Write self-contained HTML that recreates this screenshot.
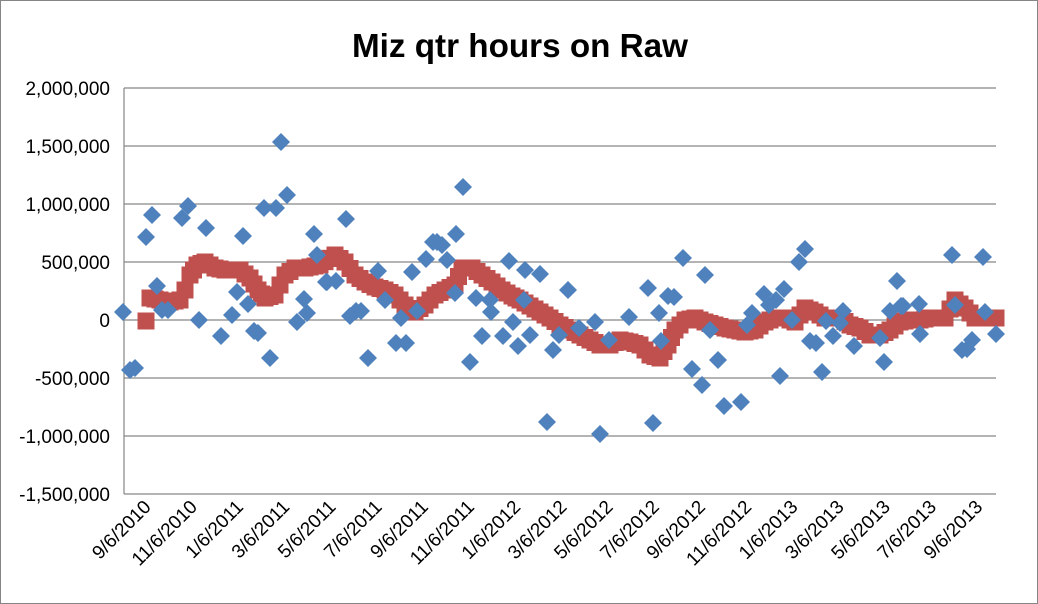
<!DOCTYPE html>
<html><head><meta charset="utf-8"><style>
html,body{margin:0;padding:0;background:#fff}
svg{display:block;font-family:"Liberation Sans",sans-serif}
</style></head><body>
<svg id="s" width="1038" height="604" viewBox="0 0 1038 604" xmlns="http://www.w3.org/2000/svg">
<rect x="0.5" y="0.5" width="1037" height="603" fill="#fff" stroke="#868686"/>
<text x="520" y="57" text-anchor="middle" font-size="33" font-weight="bold" fill="#000" textLength="336" lengthAdjust="spacingAndGlyphs">Miz qtr hours on Raw</text>
<g stroke="#868686" stroke-width="1.2">
<line x1="124" y1="88" x2="996" y2="88"/><line x1="124" y1="146" x2="996" y2="146"/>
<line x1="124" y1="204" x2="996" y2="204"/><line x1="124" y1="262" x2="996" y2="262"/>
<line x1="124" y1="320" x2="996" y2="320"/><line x1="124" y1="378" x2="996" y2="378"/>
<line x1="124" y1="436" x2="996" y2="436"/><line x1="124" y1="494" x2="996" y2="494"/>
<line x1="124" y1="88" x2="124" y2="494"/>
</g>
<g font-size="19" text-anchor="end" fill="#000">
<text x="110" y="95">2,000,000</text><text x="110" y="153">1,500,000</text>
<text x="110" y="211">1,000,000</text><text x="110" y="269">500,000</text>
<text x="110" y="327">0</text><text x="110" y="385">-500,000</text>
<text x="110" y="443">-1,000,000</text><text x="110" y="501">-1,500,000</text>
</g>
<g id="xl" font-size="19" text-anchor="end" fill="#000"></g>
<g id="red" fill="#C0504D"></g>
<g id="blue" fill="#4F81BD"></g>
</svg>
<script>
var NS="http://www.w3.org/2000/svg";
var labels=["9/6/2010","11/6/2010","1/6/2011","3/6/2011","5/6/2011","7/6/2011","9/6/2011","11/6/2011","1/6/2012","3/6/2012","5/6/2012","7/6/2012","9/6/2012","11/6/2012","1/6/2013","3/6/2013","5/6/2013","7/6/2013","9/6/2013"];
var xl=document.getElementById("xl");
labels.forEach(function(l,i){var x=152+i*46.2,y=508;var t=document.createElementNS(NS,"text");t.setAttribute("x",x);t.setAttribute("y",y);t.setAttribute("transform","rotate(-45 "+x+" "+y+")");t.textContent=l;xl.appendChild(t);});
var nodes=[[146,321],[150,298],[160,300],[170,302],[180,300],[185,290],[190,275],[197,265],[205,262],[215,268],[225,270],[240,270],[250,278],[258,290],[265,298],[275,295],[285,275],[295,268],[305,268],[320,265],[335,255],[345,262],[355,275],[365,282],[375,287],[385,290],[395,295],[405,305],[415,312],[425,305],[435,295],[445,290],[455,285],[462,268],[472,268],[482,275],[492,282],[502,290],[512,296],[520,300],[530,306],[540,312],[550,318],[560,325],[570,330],[580,335],[590,340],[600,345],[610,345],[620,340],[630,342],[640,345],[650,355],[660,358],[668,345],[675,330],[685,320],[695,318],[705,322],[715,325],[725,328],[735,330],[745,332],[755,330],[765,322],[775,318],[785,318],[795,322],[805,308],[815,312],[825,318],[840,318],[850,325],[860,328],[870,335],[880,335],[890,330],[900,322],[910,320],[920,320],[930,318],[945,318],[955,300],[965,308],[975,318],[985,318],[996,318]];
var red=document.getElementById("red");
function sq(x,y){var r=document.createElementNS(NS,"rect");r.setAttribute("x",x-8.5);r.setAttribute("y",y-8.5);r.setAttribute("width",17);r.setAttribute("height",17);red.appendChild(r);}
sq(146,321);
for(var i=1;i<nodes.length-1;i++){var a=nodes[i],b=nodes[i+1];var n=Math.max(1,Math.round((b[0]-a[0])/4.6));for(var k=0;k<n;k++){var t=k/n;sq(a[0]+(b[0]-a[0])*t,a[1]+(b[1]-a[1])*t);}}
sq(996,318);
var bl=[[123,312],[130,370],[135,368],[146,237],[152,215],[157,286],[162,310],[168,310],[182,218],[188,206],[199,320],[206,228],[221,336],[232,315],[237,292],[243,236],[248,304],[254,331],[258,333],[264,208],[270,358],[276,208],[281,142],[287,195],[297,322],[304,299],[307,313],[314,234],[317,255],[326,282],[327,282],[336,281],[346,219],[350,316],[356,311],[361,311],[368,358],[378,271],[385,300],[396,343],[401,318],[406,343],[412,272],[417,311],[426,259],[433,242],[437,242],[442,245],[447,260],[455,293],[456,234],[463,187],[470,362],[476,298],[482,336],[490,300],[491,312],[503,336],[509,261],[513,322],[518,346],[524,300],[525,270],[530,335],[540,274],[547,422],[553,350],[559,335],[568,290],[579,328],[595,322],[600,434],[609,340],[629,317],[648,288],[653,423],[659,313],[661,341],[668,296],[674,297],[683,258],[692,369],[702,385],[705,275],[710,330],[718,360],[724,406],[741,402],[747,325],[752,313],[764,294],[769,305],[776,300],[780,376],[784,289],[792,320],[799,262],[805,249],[810,341],[816,343],[822,372],[826,321],[833,336],[840,323],[843,311],[854,346],[880,338],[884,362],[890,311],[897,281],[901,306],[903,306],[919,304],[920,334],[952,255],[955,305],[962,350],[967,349],[972,340],[983,257],[985,312],[996,334]];
var blue=document.getElementById("blue");
bl.forEach(function(p){var d=document.createElementNS(NS,"polygon");var x=p[0],y=p[1];d.setAttribute("points",(x)+","+(y-9)+" "+(x+9)+","+y+" "+x+","+(y+9)+" "+(x-9)+","+y);blue.appendChild(d);});
</script>
</body></html>
